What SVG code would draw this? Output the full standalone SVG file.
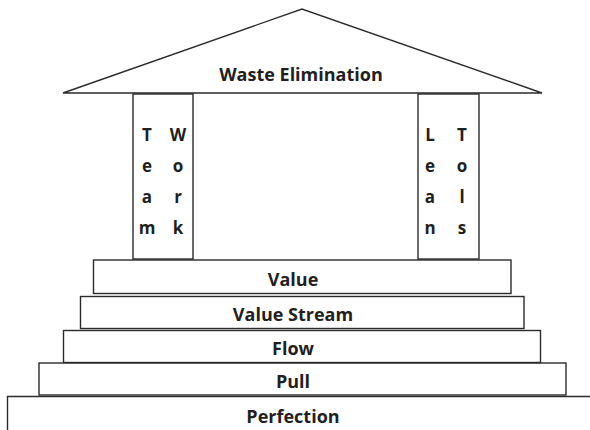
<svg xmlns="http://www.w3.org/2000/svg" width="590" height="430" viewBox="0 0 590 430">
<style>
.s{fill:#fff;stroke:#2b2b2b;stroke-width:1.4}
.t{font-family:"Open Sans","Liberation Sans",sans-serif;font-weight:bold;font-size:18px;fill:#231f20;text-anchor:middle}
.v{font-family:"Open Sans","Liberation Sans",sans-serif;font-weight:bold;font-size:17px;fill:#231f20;text-anchor:middle}
</style>
<rect width="590" height="430" fill="#fff"/>
<g id="roof">
<polygon class="s" points="63,93 302,9 542,93"/>
<text class="t" x="301" y="81">Waste Elimination</text>
</g>
<g id="pillar-teamwork">
<rect class="s" x="133" y="94" width="60" height="165"/>
<text class="v" x="147" y="141">T</text>
<text class="v" x="147" y="172">e</text>
<text class="v" x="147" y="203">a</text>
<text class="v" x="147" y="234">m</text>
<text class="v" x="178" y="141">W</text>
<text class="v" x="178" y="172">o</text>
<text class="v" x="178" y="203">r</text>
<text class="v" x="178" y="234">k</text>
</g>
<g id="pillar-leantools">
<rect class="s" x="418" y="94" width="61" height="165"/>
<text class="v" x="430" y="141">L</text>
<text class="v" x="430" y="172">e</text>
<text class="v" x="430" y="203">a</text>
<text class="v" x="430" y="234">n</text>
<text class="v" x="462" y="141">T</text>
<text class="v" x="462" y="172">o</text>
<text class="v" x="462" y="203">l</text>
<text class="v" x="462" y="234">s</text>
</g>
<g id="step-perfection">
<path class="s" d="M7.5,430 V396.5 H590"/>
<text class="t" x="293" y="423">Perfection</text>
</g>
<g id="step-pull">
<rect class="s" x="39" y="363" width="527" height="32"/>
<text class="t" x="293" y="388">Pull</text>
</g>
<g id="step-flow">
<rect class="s" x="63.5" y="330.5" width="477" height="32"/>
<text class="t" x="293" y="354.5">Flow</text>
</g>
<g id="step-valuestream">
<rect class="s" x="80.5" y="296.5" width="443.5" height="32"/>
<text class="t" x="293" y="321">Value Stream</text>
</g>
<g id="step-value">
<rect class="s" x="93.5" y="260" width="417.5" height="33.5"/>
<text class="t" x="293" y="286">Value</text>
</g>
</svg>
